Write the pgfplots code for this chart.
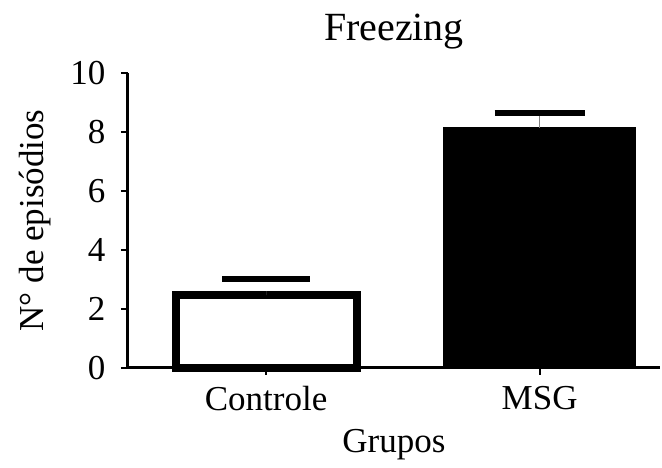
\documentclass[border=0pt]{standalone}
\usepackage{pgfplots}
\pgfplotsset{compat=1.18}
\usepackage{fontspec}
\setmainfont{Liberation Serif}
\begin{document}
\begin{tikzpicture}[x=1pt,y=1pt]
\useasboundingbox (-128,-100) rectangle (534,368);
\begin{axis}[
  at={(0,0)}, anchor=south west,
  scale only axis, width=532pt, height=295pt,
  xmin=-0.505, xmax=1.44, ymin=0, ymax=10,
  axis x line*=bottom, axis y line*=left,
  axis line style={line width=3pt, black},
  ytick={0,2,4,6,8,10},
  xtick={0,1}, xticklabels={Controle,MSG},
  tick align=outside, major tick length=7pt,
  tick style={line width=2pt, black},
  ticklabel style={font=\fontsize{35}{38}\selectfont},
  yticklabel style={xshift=-12pt},
  xticklabel style={yshift=-8pt},
  /pgf/number format/assume math mode=true,
  title={Freezing},
  title style={font=\fontsize{40}{44}\selectfont, yshift=14pt},
  ylabel={N° de episódios},
  ylabel style={font=\fontsize{35}{38}\selectfont, yshift=13pt},
  xlabel={Grupos},
  xlabel style={font=\fontsize{35}{38}\selectfont, yshift=-11pt},
  clip=false,
]
\addplot[ybar, bar width=181pt, bar shift=0pt, fill=white, draw=black, line width=8pt,
  error bars/.cd, y dir=plus, y explicit,
  error bar style={draw opacity=0},
  error mark=|, error mark options={draw=black, draw opacity=1, line width=5.5pt, mark size=44pt}]
  coordinates {(0,2.47) +- (0,0.55)};
\addplot[ybar, bar width=192pt, bar shift=0pt, fill=black, draw=black, line width=0.5pt,
  error bars/.cd, y dir=plus, y explicit,
  error bar style={line width=1pt, gray},
  error mark=|, error mark options={draw=black, line width=5.5pt, mark size=45pt}]
  coordinates {(1,8.15) +- (0,0.5)};
\end{axis}
\end{tikzpicture}
\end{document}
